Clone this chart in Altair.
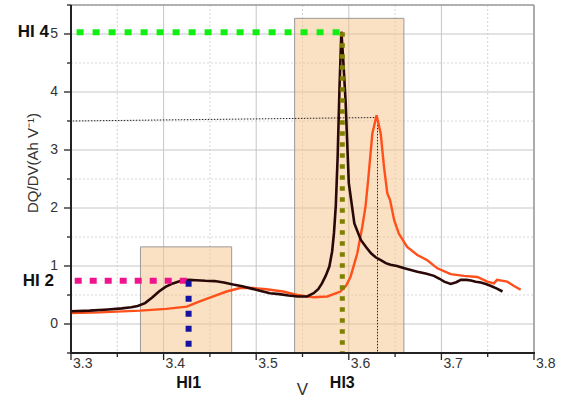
import altair as alt
import pandas as pd

# ---------------- data ----------------
black_x = [3.300, 3.320, 3.340, 3.355, 3.365, 3.372, 3.380, 3.388, 3.395, 3.402, 3.410, 3.418,
           3.427, 3.435, 3.445, 3.455, 3.465, 3.475, 3.485, 3.495, 3.505, 3.515, 3.525, 3.535,
           3.545, 3.555, 3.562, 3.567, 3.571, 3.575, 3.579, 3.582, 3.584, 3.586, 3.588, 3.590,
           3.592, 3.594, 3.5965, 3.600, 3.6025, 3.606, 3.613, 3.619, 3.624, 3.629, 3.6345, 3.640,
           3.645, 3.652, 3.660, 3.667, 3.674, 3.683, 3.692, 3.698, 3.703, 3.710, 3.716, 3.721,
           3.727, 3.732, 3.737, 3.7425, 3.748, 3.753, 3.760, 3.766]
black_y = [0.22, 0.23, 0.25, 0.27, 0.29, 0.31, 0.36, 0.46, 0.56, 0.64, 0.70, 0.74,
           0.76, 0.755, 0.745, 0.74, 0.715, 0.68, 0.65, 0.61, 0.57, 0.53, 0.515, 0.49,
           0.475, 0.475, 0.53, 0.60, 0.70, 0.83, 0.99, 1.25, 1.57, 2.05, 2.9, 4.1,
           5.04, 4.55, 3.85, 2.43, 2.14, 1.735, 1.45, 1.32, 1.22, 1.15, 1.10, 1.05,
           1.02, 1.00, 0.96, 0.93, 0.90, 0.87, 0.83, 0.78, 0.73, 0.69, 0.72, 0.76,
           0.76, 0.75, 0.73, 0.715, 0.69, 0.66, 0.61, 0.56]

orange_x = [3.300, 3.331, 3.3745, 3.403, 3.425, 3.439, 3.4537, 3.468, 3.4825, 3.497, 3.511,
            3.529, 3.5444, 3.5624, 3.5768, 3.591, 3.597, 3.602, 3.6092, 3.6146, 3.618, 3.621,
            3.6254, 3.630, 3.6345, 3.638, 3.6416, 3.6445, 3.649, 3.654, 3.663, 3.674, 3.6848,
            3.6956, 3.710, 3.7244, 3.7388, 3.7496, 3.7568, 3.760, 3.771, 3.778, 3.7856]
orange_y = [0.19, 0.20, 0.23, 0.26, 0.30, 0.39, 0.475, 0.56, 0.62, 0.62, 0.60,
            0.56, 0.50, 0.46, 0.475, 0.56, 0.66, 0.82, 1.22, 1.68, 2.02, 2.5,
            3.28, 3.60, 3.28, 2.71, 2.25, 2.14, 1.79, 1.56, 1.33, 1.19, 1.10,
            0.96, 0.86, 0.83, 0.81, 0.73, 0.70, 0.76, 0.73, 0.66, 0.59]

# highlighted windows
box_x0 = [3.375, 3.5415]
box_x1 = [3.4735, 3.6595]
box_y0 = [-0.5, -0.5]
box_y1 = [1.33, 5.27]

# indicator lines
hi4_y = 5.03
hi4_x = [3.306, 3.592]
hi2_y = 0.745
hi2_x = [3.304, 3.427]
hi1_x = 3.427
hi3_x = 3.593
y_floor = -0.5
ref_x = [3.302, 3.631, 3.631]
ref_y = [3.50, 3.56, -0.5]

side_labels = ["HI 4", "HI 2"]
bottom_labels = ["HI1", "HI3"]
x_title = "V"
y_title = "DQ/DV(Ah V⁻¹)"

x_domain = [3.3, 3.8]
y_domain = [-0.5, 5.5]
x_major = [3.3, 3.4, 3.5, 3.6, 3.7, 3.8]
x_major_labels = ["3.3", "3.4", "3.5", "3.6", "3.7", "3.8"]
x_minor = [3.35, 3.45, 3.55, 3.65, 3.75]
y_major = [0, 1, 2, 3, 4, 5]
y_major_labels = ["0", "1", "2", "3", "4", "5"]
y_minor = [-0.5, 0.5, 1.5, 2.5, 3.5, 4.5, 5.5]

FONT = "Liberation Sans"
W, H = 463, 348
xs = alt.Scale(domain=x_domain, nice=False, zero=False)
ys = alt.Scale(domain=y_domain, nice=False, zero=False)


def xq(field="x"):
    return alt.X(f"{field}:Q", scale=xs, axis=None)


def yq(field="y"):
    return alt.Y(f"{field}:Q", scale=ys, axis=None)


# grid lines
vgrid_major = alt.Chart(pd.DataFrame({"x": x_major})).mark_rule(
    color="#c6c6c6", strokeWidth=1).encode(x=xq(), y=alt.value(0), y2=alt.value(H))
hgrid_major = alt.Chart(pd.DataFrame({"y": y_major})).mark_rule(
    color="#c6c6c6", strokeWidth=1).encode(y=yq(), x=alt.value(0), x2=alt.value(W))
vgrid_minor = alt.Chart(pd.DataFrame({"x": x_minor})).mark_rule(
    color="#d6d6d6", strokeWidth=1, strokeDash=[2, 2]).encode(x=xq(), y=alt.value(0), y2=alt.value(H))
hgrid_minor = alt.Chart(pd.DataFrame({"y": y_minor})).mark_rule(
    color="#d6d6d6", strokeWidth=1, strokeDash=[2, 2]).encode(y=yq(), x=alt.value(0), x2=alt.value(W))

# frame (top / right) in gray
frame_top = alt.Chart(pd.DataFrame({"y": [y_domain[1]]})).mark_rule(
    color="#9a9a9a", strokeWidth=1.5).encode(y=yq(), x=alt.value(0), x2=alt.value(W))
frame_right = alt.Chart(pd.DataFrame({"x": [x_domain[1]]})).mark_rule(
    color="#9a9a9a", strokeWidth=1.5).encode(x=xq(), y=alt.value(0), y2=alt.value(H))

# axis lines and ticks
axis_left = alt.Chart(pd.DataFrame({"x": [x_domain[0]]})).mark_rule(
    color="#222", strokeWidth=2).encode(x=xq(), y=alt.value(0), y2=alt.value(H + 1))
axis_bottom = alt.Chart(pd.DataFrame({"y": [y_domain[0]]})).mark_rule(
    color="#222", strokeWidth=2).encode(y=yq(), x=alt.value(-1), x2=alt.value(W + 1))
xticks_major = alt.Chart(pd.DataFrame({"x": x_major})).mark_rule(
    color="#222", strokeWidth=1.3).encode(x=xq(), y=alt.value(H), y2=alt.value(H + 7))
xticks_minor = alt.Chart(pd.DataFrame({"x": x_minor})).mark_rule(
    color="#222", strokeWidth=1.3).encode(x=xq(), y=alt.value(H), y2=alt.value(H + 4))
yticks_major = alt.Chart(pd.DataFrame({"y": y_major})).mark_rule(
    color="#222", strokeWidth=1.3).encode(y=yq(), x=alt.value(-7), x2=alt.value(0))
yticks_minor = alt.Chart(pd.DataFrame({"y": y_minor})).mark_rule(
    color="#222", strokeWidth=1.3).encode(y=yq(), x=alt.value(-4), x2=alt.value(0))

# tick labels and axis titles
xtick_text = alt.Chart(pd.DataFrame({"x": x_major, "t": x_major_labels})).mark_text(
    font=FONT, fontSize=14, color="#333", align="left", baseline="middle", dx=2
).encode(x=xq(), y=alt.value(H + 11), text="t:N")
ytick_text = alt.Chart(pd.DataFrame({"y": y_major, "t": y_major_labels})).mark_text(
    font=FONT, fontSize=14, color="#333", align="right", baseline="middle"
).encode(y=yq(), x=alt.value(-13), text="t:N")
xtitle_text = alt.Chart(pd.DataFrame({"t": [x_title]})).mark_text(
    font=FONT, fontSize=17, color="#333", align="center", baseline="middle"
).encode(x=alt.value(W / 2), y=alt.value(H + 37), text="t:N")
ytitle_text = alt.Chart(pd.DataFrame({"t": [y_title]})).mark_text(
    font=FONT, fontSize=15, color="#333", align="center", baseline="middle", angle=270
).encode(x=alt.value(-38), y=alt.value(158), text="t:N")

boxes = alt.Chart(pd.DataFrame({"x0": box_x0, "x1": box_x1, "y0": box_y0, "y1": box_y1})).mark_rect(
    fill="#f7c48a", fillOpacity=0.5, stroke="#999999", strokeWidth=1
).encode(x=xq("x0"), x2="x1:Q", y=yq("y0"), y2="y1:Q")

black = alt.Chart(pd.DataFrame({"x": black_x, "y": black_y})).mark_line(
    color="#2a0808", strokeWidth=2.6, interpolate="linear"
).encode(x=xq(), y=yq())

orange = alt.Chart(pd.DataFrame({"x": orange_x, "y": orange_y})).mark_line(
    color="#ff4f1a", strokeWidth=2.4, interpolate="linear"
).encode(x=xq(), y=yq())

ref_line = alt.Chart(pd.DataFrame({"x": ref_x, "y": ref_y, "o": [0, 1, 2]})).mark_line(
    color="#222", strokeWidth=1, strokeDash=[1.5, 1.5]
).encode(x=xq(), y=yq(), order="o:Q")


def hrule(xv, yv, color, width, dash):
    return alt.Chart(pd.DataFrame({"x0": [xv[0]], "x1": [xv[1]], "y": [yv]})).mark_rule(
        color=color, strokeWidth=width, strokeDash=dash, strokeCap="butt"
    ).encode(x=xq("x0"), x2="x1:Q", y=yq())


def vrule(xv, ytop, ybot, color, width, dash):
    return alt.Chart(pd.DataFrame({"x": [xv], "y0": [ytop], "y1": [ybot]})).mark_rule(
        color=color, strokeWidth=width, strokeDash=dash, strokeCap="butt"
    ).encode(x=xq(), y=yq("y0"), y2="y1:Q")


green = hrule(hi4_x, hi4_y, "#11ee11", 6, [7, 9])
magenta = hrule(hi2_x, hi2_y, "#f0148c", 6, [7, 8])
blue = vrule(hi1_x, hi2_y, y_floor, "#1414a0", 6, [6, 9])
olive = vrule(hi3_x, hi4_y, y_floor, "#7f7f00", 5, [4.5, 6.5])

lab4 = alt.Chart(pd.DataFrame({"t": [side_labels[0]], "y": [hi4_y]})).mark_text(
    font=FONT, fontSize=17, fontWeight="bold", color="#111", align="right", baseline="middle"
).encode(x=alt.value(-22), y=yq(), text="t:N")

lab2 = alt.Chart(pd.DataFrame({"t": [side_labels[1]], "y": [hi2_y]})).mark_text(
    font=FONT, fontSize=17, fontWeight="bold", color="#111", align="right", baseline="middle"
).encode(x=alt.value(-17), y=yq(), text="t:N")

labs_bottom = alt.Chart(pd.DataFrame({"t": bottom_labels, "x": [hi1_x, hi3_x]})).mark_text(
    font=FONT, fontSize=16, fontWeight="bold", color="#111", align="center", baseline="middle"
).encode(x=xq(), y=alt.value(378), text="t:N")

chart = alt.layer(
    vgrid_minor, hgrid_minor, vgrid_major, hgrid_major,
    boxes, ref_line, orange, black,
    green, magenta, blue, olive,
    frame_top, frame_right, axis_left, axis_bottom,
    xticks_major, xticks_minor, yticks_major, yticks_minor,
    xtick_text, ytick_text, xtitle_text, ytitle_text,
    lab4, lab2, labs_bottom
).properties(
    width=W, height=H,
    autosize=alt.AutoSizeParams(type="none"),
    padding={"left": 71, "top": 5, "right": 34, "bottom": 46},
    background="white",
).configure_view(stroke=None)

chart.save("out.html", embed_options={"renderer": "svg", "actions": False})
